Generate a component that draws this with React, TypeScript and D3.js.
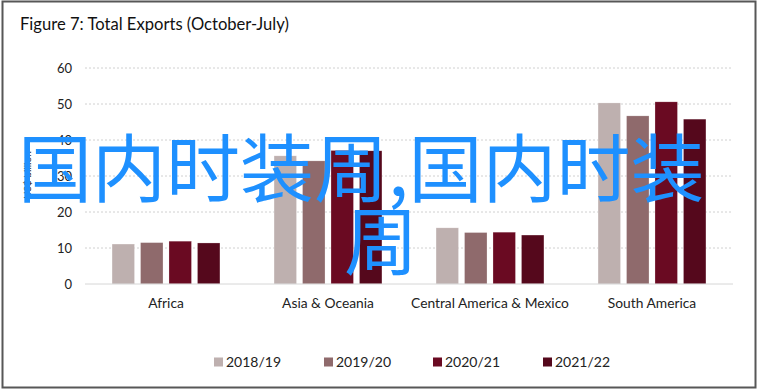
import React from 'react';
import * as d3 from 'd3';

const regions = ['Africa', 'Asia & Oceania', 'Central America & Mexico', 'South America'];
const seasons = ['2018/19', '2019/20', '2020/21', '2021/22'];
const exports1819 = [11.1, 35.6, 15.6, 50.3];
const exports1920 = [11.5, 34.2, 14.3, 46.7];
const exports2021 = [11.9, 37.1, 14.4, 50.6];
const exports2122 = [11.4, 37.0, 13.6, 45.8];
const yTicks = [0, 10, 20, 30, 40, 50, 60];
const colors = ['#BEB0AF', '#8F6A6C', '#6A0A22', '#55081C'];

const seriesValues = [exports1819, exports1920, exports2021, exports2122];

const W = 760;
const H = 391;
const font = 'Lato, "Open Sans", sans-serif';

const App = () => {
  const x = d3.scaleBand().domain(regions).range([85, 733]).paddingInner(0).paddingOuter(0);
  const inner = d3.scaleBand().domain(seasons).range([0, x.bandwidth()]).paddingInner(0.21).paddingOuter(0.95);
  const y = d3.scaleLinear().domain([0, 60]).range([284, 68]);

  const legendX = d3.scaleOrdinal<string, number>().domain(seasons).range([214, 324, 433, 543]);

  return (
    <svg width={W} height={H} style={{ position: 'absolute', left: 0, top: 0, background: '#fff' }}>
      <rect x={2.5} y={1.5} width={753} height={386} fill="#fff" stroke="#575757" strokeWidth={2} />
      <text x={20} y={30} fontFamily={font} fontSize={16.6} fill="#111">
        Figure 7: Total Exports (October-July)
      </text>

      {yTicks.map((t) => (
        <g key={t}>
          {t > 0 && (
            <line x1={85} x2={733} y1={y(t)} y2={y(t)} stroke="#D0D0D0" strokeWidth={1} strokeDasharray="2,2" />
          )}
          <text x={72} y={y(t)} dy="0.35em" textAnchor="end" fontFamily={font} fontSize={13} fill="#222">
            {t}
          </text>
        </g>
      ))}
      <text transform={`translate(31,175) rotate(-90)`} textAnchor="middle" fontFamily={font} fontSize={10} fill="#222">
        US$ billion
      </text>

      {regions.map((r, i) => (
        <g key={r} transform={`translate(${x(r)},0)`}>
          {seasons.map((s, j) => (
            <rect
              key={s}
              x={inner(s)}
              y={y(seriesValues[j][i])}
              width={inner.bandwidth()}
              height={y(0) - y(seriesValues[j][i])}
              fill={colors[j]}
              stroke="#fff"
              strokeOpacity={0.5}
              strokeWidth={0.5}
            />
          ))}
          <text x={x.bandwidth() / 2} y={308} textAnchor="middle" fontFamily={font} fontSize={13.8} fill="#222">
            {r}
          </text>
        </g>
      ))}
      <line x1={85} x2={733} y1={y(0)} y2={y(0)} stroke="#D6D6D6" strokeWidth={1} />

      {seasons.map((s, j) => (
        <g key={s} transform={`translate(${legendX(s)},362)`}>
          <rect x={0} y={-4.5} width={9} height={9} fill={colors[j]} />
          <text x={12} y={0} dy="0.35em" fontFamily={font} fontSize={14} fill="#222">
            {s}
          </text>
        </g>
      ))}

      <g fontFamily='"Noto Sans CJK SC", sans-serif' fontSize={74} fill="#1E90FF">
        <text x={18} y={196}>国内时装周,国内时装</text>
        <text x={344} y={269}>周</text>
      </g>
    </svg>
  );
};

export default App;
